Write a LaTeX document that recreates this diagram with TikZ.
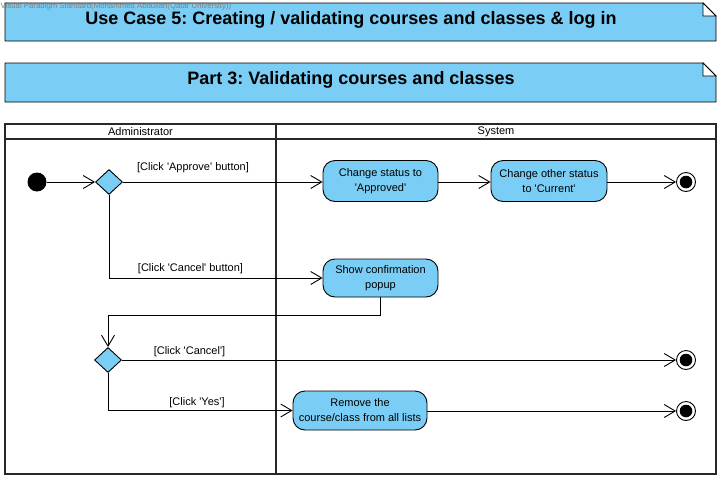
\documentclass[tikz,border=0pt]{standalone}
\usepackage{fontspec}
\setmainfont{Liberation Sans}[Ligatures=TeXOff]
\usetikzlibrary{arrows.meta,shapes.geometric,calc}
\definecolor{vpblue}{RGB}{122,206,245}
\definecolor{lanegray}{RGB}{40,40,40}
\frenchspacing
\begin{document}
\begin{tikzpicture}[x=1pt,y=-1pt,
  flow/.style={draw=black,line width=0.9pt,-{Straight Barb[length=11pt,width=13pt,line width=0.9pt]}},
  action/.style={rectangle,rounded corners=12pt,draw=black,line width=0.9pt,fill=vpblue,align=center,
    font=\fontsize{11}{15}\selectfont,inner sep=0pt},
  decision/.style={diamond,draw=black,line width=0.9pt,fill=vpblue,minimum width=27pt,minimum height=25pt,inner sep=0pt},
  initnode/.style={circle,fill=black,minimum size=19pt,inner sep=0pt},
  finalouter/.style={circle,draw=black,line width=0.9pt,fill=white,minimum size=19pt,inner sep=0pt},
  guard/.style={font=\fontsize{11}{12}\selectfont,inner sep=0pt},
  notebox/.style={draw=black,line width=0.8pt,fill=vpblue},
  notetitle/.style={font=\fontsize{18}{20}\bfseries\selectfont},
  lanehead/.style={font=\fontsize{11}{12}\selectfont}]
\useasboundingbox (0,0) rectangle (721,480);
\fill[white] (0,0) rectangle (721,480);

% notes
\path[notebox] (5,3) -- (703,3) -- (716,16) -- (716,41) -- (5,41) -- cycle;
\draw[line width=0.8pt,fill=white] (703,3) -- (703,16) -- (716,16) -- cycle;
\node[notetitle] (t1) at (351,19.5) {Use Case 5: Creating / validating courses and classes \& log in};
\node[anchor=west,text=gray,font=\fontsize{7.8}{8}\selectfont,inner sep=0pt] (wm) at (0.5,6) {Visual Paradigm Standard(Mohammed Abdullah(Qatar University))};

\path[notebox] (5,63) -- (703,63) -- (716,76) -- (716,102) -- (5,102) -- cycle;
\draw[line width=0.8pt,fill=white] (703,63) -- (703,76) -- (716,76) -- cycle;
\node[notetitle] (t2) at (351,79.5) {Part 3: Validating courses and classes};

% swimlanes
\draw[lanegray,line width=1.6pt] (5,124) rectangle (716,474);
\draw[lanegray,line width=1.4pt] (5,139) -- (716,139);
\draw[lanegray,line width=1.6pt] (276,124) -- (276,474);
\node[lanehead] (l1) at (140.5,132) {Administrator};
\node[lanehead] (l2) at (496,132) {System};

% nodes
\node[initnode] (init) at (37,182) {};
\node[decision] (d1) at (109,182) {};
\node[action,minimum width=115pt,minimum height=41pt] (a1) at (380.5,181) {Change status to\\'Approved'};
\node[action,minimum width=116pt,minimum height=41pt] (a2) at (549,181) {Change other status\\to 'Current'};
\node[finalouter] (f1) at (686,182) {};
\fill (f1) circle (6.3pt);
\node[action,minimum width=115pt,minimum height=38pt] (a3) at (380.5,278) {Show confirmation\\popup};
\node[decision] (d2) at (108,360) {};
\node[finalouter] (f2) at (686,360) {};
\fill (f2) circle (6.3pt);
\node[action,minimum width=134pt,minimum height=39pt] (a4) at (360,410.5) {Remove the\\course/class from all lists};
\node[finalouter] (f3) at (686,411) {};
\fill (f3) circle (6.3pt);

% connectors
\draw[flow] (init) -- (d1);
\draw[flow] (d1.east) -- (a1.west |- d1.east);
\draw[flow] (a1.east |- d1.east) -- (a2.west |- d1.east);
\draw[flow] (a2.east |- f1) -- (f1);
\draw[flow] (d1.south) |- (a3.west);
\draw[flow] (a3.south) -- ++(0,18) -| (d2.north);
\draw[flow] (d2.east) -- (f2);
\draw[flow] (d2.south) |- (a4.west);
\draw[flow] (a4.east |- f3) -- (f3);

% guards
\node[guard] (g1) at (193,168) {[Click 'Approve' button]};
\node[guard] (g2) at (190.5,269) {[Click 'Cancel' button]};
\node[guard] (g3) at (189.5,352) {[Click 'Cancel']};
\node[guard] (g4) at (197,403) {[Click 'Yes']};
\end{tikzpicture}
\end{document}
